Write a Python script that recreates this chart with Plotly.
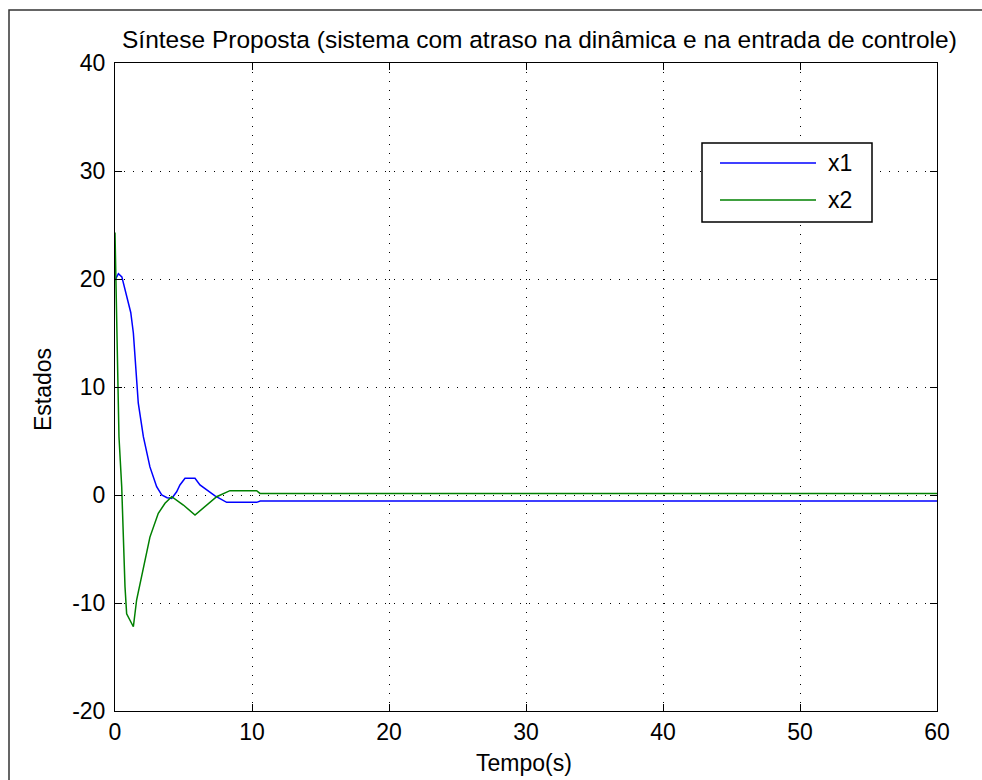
import plotly.graph_objects as go

# State trajectories of the delayed closed-loop system
t_x1 = [0.0, 0.25, 0.5, 0.85, 1.15, 1.34, 1.51, 1.7, 2.07, 2.55, 3.04, 3.41,
        3.8, 4.14, 4.5, 4.74, 5.11, 5.84, 6.2, 7.3, 8.15, 10.34, 10.6, 60.0]
x1 = [19.9, 20.5, 20.2, 18.5, 16.9, 15.0, 11.9, 8.5, 5.4, 2.6, 0.77, 0.0,
      -0.25, -0.31, 0.3, 0.93, 1.55, 1.55, 0.93, -0.09, -0.68, -0.68, -0.55, -0.55]

t_x2 = [0.0, 0.1, 0.24, 0.29, 0.49, 0.61, 0.73, 0.85, 1.34, 1.58, 2.07, 2.55,
        3.16, 3.65, 4.14, 4.99, 5.84, 6.69, 7.42, 8.39, 10.34, 10.58, 60.0]
x2 = [24.3, 18.0, 11.6, 5.4, 0.77, -3.9, -8.5, -11.0, -12.2, -9.7, -6.9, -3.9,
      -1.7, -0.77, -0.16, -0.93, -1.85, -0.93, -0.16, 0.40, 0.40, 0.15, 0.15]

series_names = ["x1", "x2"]
series_colors = ["#0000ff", "#008000"]

x_ticks = [0, 10, 20, 30, 40, 50, 60]
y_ticks = [-20, -10, 0, 10, 20, 30, 40]

title_text = "Síntese Proposta (sistema com atraso na dinâmica e na entrada de controle)"
x_label = "Tempo(s)"
y_label = "Estados"

FONT = "Liberation Sans, Arial, sans-serif"
W, H = 982, 780
ML, MR, MT, MB = 115, 45, 63, 69
PW, PH = W - ML - MR, H - MT - MB


def px(xpix):
    return (xpix - ML) / PW


def py(ypix):
    return (H - MB - ypix) / PH


fig = go.Figure()
for tt, yy, name, col in zip([t_x1, t_x2], [x1, x2], series_names, series_colors):
    fig.add_trace(go.Scatter(x=tt, y=yy, mode="lines", name=name,
                             line=dict(color=col, width=1.5), showlegend=False))

axis_common = dict(
    showline=True, linecolor="black", linewidth=1, mirror="ticks",
    ticks="inside", ticklen=7, tickcolor="black", tickwidth=1,
    showgrid=True, gridcolor="black", gridwidth=1, griddash="1px,8px",
    zeroline=False, tickfont=dict(family=FONT, size=23, color="black"),
)

fig.update_xaxes(range=[0, 60], tickvals=x_ticks, ticktext=[str(v) for v in x_ticks],
                 ticklabelstandoff=0, **axis_common)
fig.update_yaxes(range=[-20, 40], tickvals=y_ticks, ticktext=[str(v) for v in y_ticks],
                 ticklabelstandoff=4, **axis_common)

shapes = [
    # outer figure frame
    dict(type="rect", xref="paper", yref="paper", x0=px(9), x1=px(1000),
         y0=py(800), y1=py(10), line=dict(color="#333333", width=1.5), layer="below"),
    # legend box
    dict(type="rect", xref="paper", yref="paper", x0=px(702), x1=px(872),
         y0=py(222), y1=py(143), line=dict(color="black", width=1.5),
         fillcolor="white", layer="above"),
]
annotations = [
    dict(text=title_text, xref="paper", yref="paper", x=px(539), y=py(39),
         xanchor="center", yanchor="middle", showarrow=False,
         font=dict(family=FONT, size=24.5, color="black")),
    dict(text=x_label, xref="paper", yref="paper", x=px(524), y=py(763),
         xanchor="center", yanchor="middle", showarrow=False,
         font=dict(family=FONT, size=23, color="black")),
    dict(text=y_label, xref="paper", yref="paper", x=px(43), y=py(390),
         xanchor="center", yanchor="middle", showarrow=False, textangle=-90,
         font=dict(family=FONT, size=23, color="black")),
]
legend_rows = [163, 200]
for name, col, ypix in zip(series_names, series_colors, legend_rows):
    shapes.append(dict(type="line", xref="paper", yref="paper", x0=px(720), x1=px(816),
                       y0=py(ypix), y1=py(ypix), line=dict(color=col, width=1.5)))
    annotations.append(dict(text=name, xref="paper", yref="paper", x=px(826), y=py(ypix),
                            xanchor="left", yanchor="middle", showarrow=False,
                            font=dict(family=FONT, size=23, color="black")))

fig.update_layout(
    width=W, height=H,
    margin=dict(l=ML, r=MR, t=MT, b=MB),
    paper_bgcolor="white", plot_bgcolor="white",
    shapes=shapes, annotations=annotations,
    showlegend=False,
)

fig.write_html("out.html")
